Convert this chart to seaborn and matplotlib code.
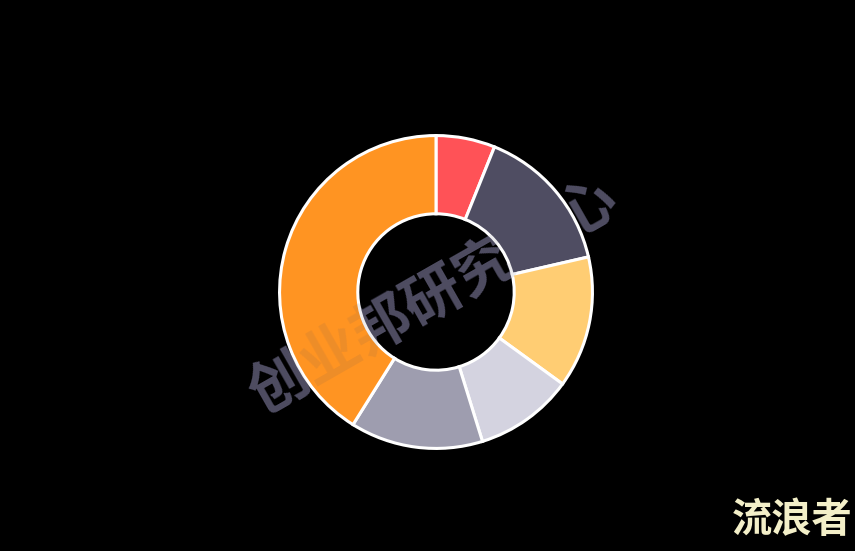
import matplotlib.pyplot as plt
import seaborn as sns
import pandas as pd


sns.set_theme(style="white")
plt.rcParams['font.family'] = ['Noto Sans CJK SC', 'DejaVu Sans']

# slice shares (%), clockwise from 12 o'clock
categories = ['A', 'B', 'C', 'D', 'E', 'F']
shares = [6.1, 15.3, 13.6, 10.2, 13.7, 41.1]
colors = ['#ff5257', '#4f4d62', '#ffcd73', '#d4d3e0', '#9e9daf', '#ff9422']

watermark = '创业邦研究中心'
signature = '流浪者'


if __name__ == '__main__':

    data = pd.DataFrame({'category': categories, 'share': shares, 'color': colors})

    W, H = 855, 551
    fig = plt.figure(figsize=(W / 100, H / 100), dpi=100, facecolor='black')

    cx, cy, r = 436, 292, 158
    ax = fig.add_axes([(cx - r) / W, (H - cy - r) / H, 2 * r / W, 2 * r / H])
    ax.axis('off')

    wedges, _ = ax.pie(
        data['share'],
        colors=data['color'],
        startangle=90,
        counterclock=False,
        radius=1,
        wedgeprops={'width': 0.5, 'edgecolor': 'white', 'linewidth': 2.2},
    )
    ax.set_xlim(-1.01, 1.01)
    ax.set_ylim(-1.01, 1.01)

    # watermark: solid behind the donut, faint on top of it
    wm = dict(rotation=29.7, fontsize=42.5, color='#4f4d62', ha='center', va='center',
              fontweight='bold', rotation_mode='anchor')
    pos = (434 / W, 1 - 298 / H)
    fig.text(*pos, watermark, zorder=-1, **wm)
    fig.text(*pos, watermark, zorder=5, alpha=0.1, **wm)

    fig.text(792 / W, 1 - 521 / H, signature, fontsize=29, color='#f3efc8',
             ha='center', va='center', fontweight='bold')

    fig.savefig('out.png', dpi=100, facecolor='black')
